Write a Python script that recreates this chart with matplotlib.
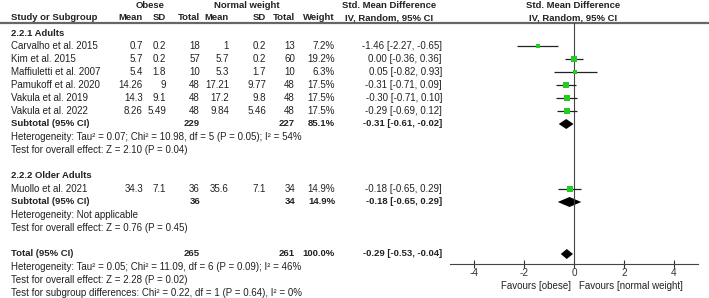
import matplotlib
matplotlib.use("Agg")
import matplotlib.pyplot as plt
import numpy as np

plt.rcParams["font.family"] = ["Liberation Sans", "DejaVu Sans"]
plt.rcParams["font.size"] = 7.0

# data
studies = ["Carvalho et al. 2015", "Kim et al. 2015", "Maffiuletti et al. 2007",
           "Pamukoff et al. 2020", "Vakula et al. 2019", "Vakula et al. 2022",
           "Muollo et al. 2021"]
group = [0, 0, 0, 0, 0, 0, 1]
ob_mean = [0.7, 5.7, 5.4, 14.26, 14.3, 8.26, 34.3]
ob_sd = [0.2, 0.2, 1.8, 9, 9.1, 5.49, 7.1]
ob_n = [18, 57, 10, 48, 48, 48, 36]
nw_mean = [1, 5.7, 5.3, 17.21, 17.2, 9.84, 35.6]
nw_sd = [0.2, 0.2, 1.7, 9.77, 9.8, 5.46, 7.1]
nw_n = [13, 60, 10, 48, 48, 48, 34]
weight = [7.2, 19.2, 6.3, 17.5, 17.5, 17.5, 14.9]
smd = [-1.46, 0.00, 0.05, -0.31, -0.30, -0.29, -0.18]
ci_lo = [-2.27, -0.36, -0.82, -0.71, -0.71, -0.69, -0.65]
ci_hi = [-0.65, 0.36, 0.93, 0.09, 0.10, 0.12, 0.29]

group_names = ["2.2.1 Adults", "2.2.2 Older Adults"]
sub_ob_n = [229, 36]
sub_nw_n = [227, 34]
sub_weight = [85.1, 14.9]
sub_smd = [-0.31, -0.18]
sub_lo = [-0.61, -0.65]
sub_hi = [-0.02, 0.29]
sub_het = ["Heterogeneity: Tau\u00b2 = 0.07; Chi\u00b2 = 10.98, df = 5 (P = 0.05); I\u00b2 = 54%",
           "Heterogeneity: Not applicable"]
sub_test = ["Test for overall effect: Z = 2.10 (P = 0.04)",
            "Test for overall effect: Z = 0.76 (P = 0.45)"]

tot_ob_n, tot_nw_n, tot_weight = 265, 261, 100.0
tot_smd, tot_lo, tot_hi = -0.29, -0.53, -0.04
tot_notes = ["Heterogeneity: Tau\u00b2 = 0.05; Chi\u00b2 = 11.09, df = 6 (P = 0.09); I\u00b2 = 46%",
             "Test for overall effect: Z = 2.28 (P = 0.02)",
             "Test for subgroup differences: Chi\u00b2 = 0.22, df = 1 (P = 0.64), I\u00b2 = 0%"]

xticks = [-4, -2, 0, 2, 4]

W, H = 709, 298
fig = plt.figure(figsize=(W / 100, H / 100), dpi=100)
tx = fig.add_axes([0, 0, 1, 1])
tx.set_xlim(0, W)
tx.set_ylim(H, 0)
tx.axis("off")

fx = fig.add_axes([450 / W, 0, 248 / W, 1])
fx.set_xlim(-4.96, 4.96)
fx.set_ylim(H, 0)
fx.patch.set_visible(False)
for s in ["top", "right", "left"]:
    fx.spines[s].set_visible(False)
fx.spines["bottom"].set_position(("data", 264))
fx.spines["bottom"].set_color("#444444")
fx.set_yticks([])
fx.set_xticks(xticks)
fx.set_xticklabels([str(t) for t in xticks])
fx.tick_params(axis="x", direction="inout", length=6, width=0.8, pad=0,
               colors="#333333", labelsize=7.2)

TC = "#222222"
cols = [143, 166, 200, 229, 266, 295, 335]
CI_X = 442
GREEN = "#22cc22"


def row_y(i):
    return 33 + 13 * i


def txt(x, y, s, ha="right", bold=False):
    tx.text(x, y, s, ha=ha, va="center", color=TC,
            fontweight="bold" if bold else "normal",
            fontsize=6.8 if bold else 7.0)


def fmt_ci(e, lo, hi):
    return f"{e:.2f} [{lo:.2f}, {hi:.2f}]"


def diamond(y, e, lo, hi):
    fx.fill([lo, e, hi, e], [y, y - 5, y, y + 5], color="black", lw=0)


# headers
txt(150, 6, "Obese", ha="center", bold=True)
txt(247, 6, "Normal weight", ha="center", bold=True)
txt(389, 6, "Std. Mean Difference", ha="center", bold=True)
txt(573, 6, "Std. Mean Difference", ha="center", bold=True)
txt(11, 18, "Study or Subgroup", ha="left", bold=True)
for x, h in zip(cols, ["Mean", "SD", "Total", "Mean", "SD", "Total", "Weight"]):
    txt(x, 18, h, bold=True)
txt(389, 18, "IV, Random, 95% CI", ha="center", bold=True)
txt(573, 18, "IV, Random, 95% CI", ha="center", bold=True)
tx.plot([0, W], [23, 23], color="#666666", lw=1.6)

fx.plot([0, 0], [23, 264], color="#444444", lw=0.8)

row = 0
for g in range(2):
    txt(11, row_y(row), group_names[g], ha="left", bold=True)
    row += 1
    for k in range(len(studies)):
        if group[k] != g:
            continue
        y = row_y(row)
        txt(11, y, studies[k], ha="left")
        vals = [f"{ob_mean[k]:g}", f"{ob_sd[k]:g}", str(ob_n[k]),
                f"{nw_mean[k]:g}", f"{nw_sd[k]:g}", str(nw_n[k]), f"{weight[k]:.1f}%"]
        for x, v in zip(cols, vals):
            txt(x, y, v)
        txt(CI_X, y, fmt_ci(smd[k], ci_lo[k], ci_hi[k]))
        fx.hlines(y, ci_lo[k], ci_hi[k], color="#222222", lw=0.9)
        fx.plot(smd[k], y, "s", color=GREEN, ms=np.sqrt(weight[k]) * 0.95, mew=0)
        row += 1
    y = row_y(row)
    txt(11, y, "Subtotal (95% CI)", ha="left", bold=True)
    txt(cols[2], y, str(sub_ob_n[g]), bold=True)
    txt(cols[5], y, str(sub_nw_n[g]), bold=True)
    txt(cols[6], y, f"{sub_weight[g]:.1f}%", bold=True)
    txt(CI_X, y, fmt_ci(sub_smd[g], sub_lo[g], sub_hi[g]), bold=True)
    diamond(y, sub_smd[g], sub_lo[g], sub_hi[g])
    row += 1
    txt(11, row_y(row), sub_het[g], ha="left")
    row += 1
    txt(11, row_y(row), sub_test[g], ha="left")
    row += 2

y = row_y(row)
txt(11, y, "Total (95% CI)", ha="left", bold=True)
txt(cols[2], y, str(tot_ob_n), bold=True)
txt(cols[5], y, str(tot_nw_n), bold=True)
txt(cols[6], y, f"{tot_weight:.1f}%", bold=True)
txt(CI_X, y, fmt_ci(tot_smd, tot_lo, tot_hi), bold=True)
diamond(y, tot_smd, tot_lo, tot_hi)
for note in tot_notes:
    row += 1
    txt(11, row_y(row), note, ha="left")

txt(571, 286, "Favours [obese]", ha="right")
txt(579, 286, "Favours [normal weight]", ha="left")

fig.savefig("out.png", dpi=100)
